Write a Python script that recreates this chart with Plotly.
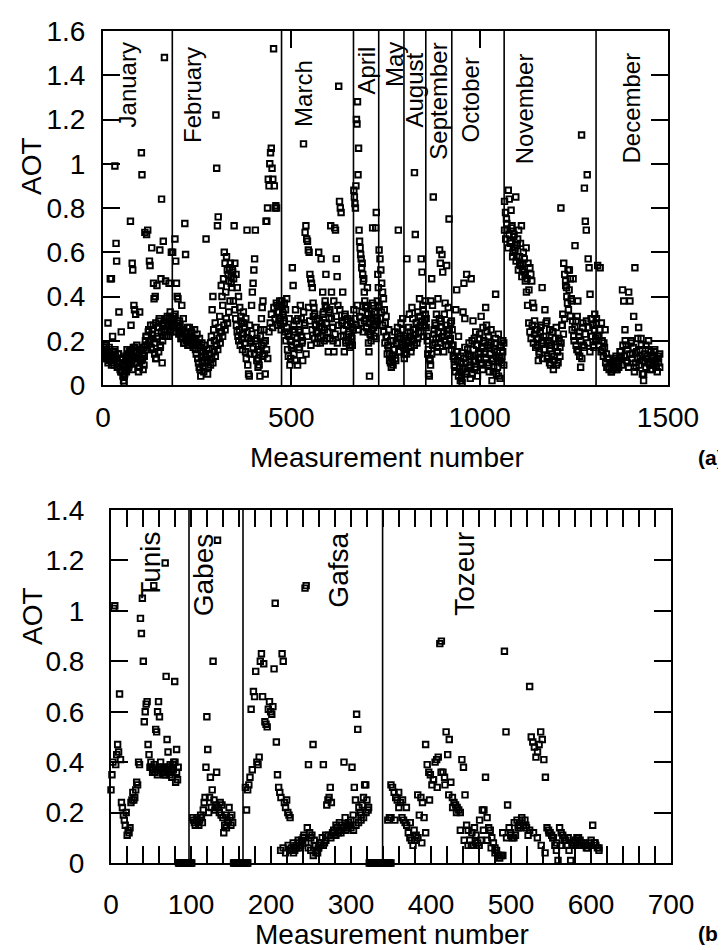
import numpy as np
import plotly.graph_objects as go

# ---------------- data: panel (a), AOT by month ----------------
month_names = ["January", "February", "March", "April", "May", "August",
               "September", "October", "November", "December"]
month_starts = [1, 185, 475, 666, 733, 800, 858, 927, 1066, 1310]
month_ends = [183, 473, 664, 731, 798, 856, 925, 1064, 1308, 1478]
month_dividers = [184, 474, 665, 732, 799, 857, 926, 1065, 1309]

jan = [0.15,0.17,0.13,0.16,0.14,0.18,0.12,0.15,0.28,0.13,0.16,0.11,0.48,0.14,0.48,0.10,0.22,0.12,0.15,0.09,
       0.99,0.13,0.64,0.56,0.11,0.08,0.14,0.33,0.10,0.07,0.12,0.24,0.06,0.09,0.04,0.02,0.01,0.05,0.08,0.13,
       0.06,0.16,0.10,0.12,0.08,0.15,0.11,0.74,0.27,0.14,0.55,0.52,0.17,0.36,0.34,0.12,0.32,0.15,0.18,0.10,
       0.12,0.06,0.14,0.33,0.11,0.16,1.05,0.95,0.12,0.07,0.17,0.13,0.69,0.20,0.22,0.68,0.18,0.70,0.24,0.20,
       0.56,0.54,0.27,0.16,0.62,0.25,0.21,0.46,0.39,0.14,0.40,0.28,0.12,0.45,0.22,0.26,0.15,0.30,0.61,0.18,
       0.48,0.84,0.10,0.27,0.65,0.24,1.48,0.25,0.47,0.29,0.22,0.31,0.27,0.22,0.46,0.25,0.33,0.28,0.60,0.29]
feb = [0.60,0.31,0.27,0.66,0.56,0.46,0.40,0.39,0.26,0.29,0.24,0.21,0.36,0.22,0.30,0.19,0.73,0.59,0.21,0.23,
       0.18,0.20,0.26,0.22,0.19,0.24,0.21,0.17,0.20,0.18,0.16,0.14,0.19,0.12,0.10,0.08,0.07,0.04,0.13,0.10,
       0.08,0.06,0.11,0.14,0.66,0.10,0.05,0.08,0.16,0.14,0.19,0.22,0.34,0.40,0.25,0.20,0.28,1.22,0.98,0.72,
       0.76,0.26,0.31,0.24,0.45,0.40,0.36,0.48,0.60,0.55,0.42,0.58,0.52,0.50,0.47,0.53,0.55,0.49,0.44,0.51,
       0.38,0.72,0.34,0.30,0.27,0.24,0.22,0.20,0.25,0.18,0.29,0.21,0.16,0.23,0.28,0.19,0.15,0.12,0.70,0.09,
       0.05,0.04,0.14,0.20,0.36,0.42,0.46,0.52,0.57,0.70,0.26,0.21,0.16,0.12,0.09,0.04,0.25,0.30,0.35,0.38,
       0.19,0.14,0.05,0.74,0.74,0.80,0.93,0.90,1.00,1.05,1.07,0.98,0.93,1.52,0.90,0.80,0.81,0.80,0.36,0.33,
       0.30,0.38,0.28,0.25]
mar = [0.38,0.33,0.28,0.37,0.24,0.20,0.39,0.16,0.13,0.22,0.09,0.12,0.18,0.53,0.45,0.27,0.24,0.34,0.29,0.21,
       0.30,0.25,0.17,0.36,0.22,0.19,0.11,1.09,0.28,0.69,0.72,0.66,0.65,0.61,0.60,0.50,0.48,0.46,0.44,0.37,
       0.35,0.32,0.27,0.24,0.30,0.21,0.60,0.26,0.19,0.57,0.28,0.42,0.33,0.25,0.38,0.50,0.35,0.21,0.15,0.30,
       0.34,0.72,0.42,0.26,0.20,0.15,0.71,0.70,0.57,0.49,0.36,1.35,0.83,0.80,0.78,0.28,0.42,0.22,0.15,0.32,
       0.19,0.27,0.30,0.20,0.24,0.17,0.28,0.22,0.18,0.25]
apr = [0.88,0.85,0.82,0.80,0.90,1.20,1.18,1.28,0.95,1.07,0.70,0.65,0.62,0.59,0.57,0.53,0.55,0.50,0.47,0.48,
       0.42,0.38,0.36,0.30,0.26,0.35,0.44,0.24,0.19,0.15,0.04,0.28,0.23,0.20,0.32,0.25,0.71,0.29,0.36,0.22,
       0.33,0.27,0.71,0.78,0.30,0.38,0.50,0.44]
may = [0.61,0.57,0.52,0.46,0.42,0.39,0.34,0.28,0.31,0.22,0.18,0.25,0.14,0.10,0.08,0.12,0.20,0.16,0.24,0.11,
       0.19,0.26,0.70,0.15,0.22,0.28,0.18,0.30,0.21]
aug = [0.14,0.18,0.22,0.57,0.20,0.26,0.32,0.24,0.17,0.35,0.30,0.21,0.96,0.68,0.28,0.19,0.33,0.24,0.39,0.27,
       0.57,0.51,0.36,0.22,0.30,0.38]
sep = [0.30,0.22,0.14,0.05,0.04,0.11,0.38,0.48,0.36,0.85,0.25,0.19,0.27,0.32,0.15,0.39,0.21,0.61,0.55,0.29,
       0.59,0.51,0.24,0.32,0.37,0.18,0.54,0.25,0.35,0.75,0.20,0.28,0.16]
octo = [0.25,0.18,0.12,0.08,0.34,0.43,0.15,0.22,0.06,0.02,0.10,0.01,0.33,0.46,0.30,0.05,0.50,0.16,0.08,0.13,
        0.03,0.48,0.20,0.29,0.11,0.07,0.24,0.18,0.04,0.12,0.21,0.15,0.31,0.09,0.26,0.19,0.14,0.35,0.27,0.10,
        0.22,0.06,0.17,0.25,0.02,0.12,0.08,0.19,0.41,0.05,0.15,0.23,0.11,0.03,0.18,0.13,0.20,0.09]
nov = [0.83,0.78,0.75,0.70,0.88,0.84,0.65,0.79,0.72,0.60,0.68,0.62,0.85,0.58,0.66,0.70,0.55,0.64,0.72,0.52,
       0.60,0.57,0.50,0.62,0.48,0.55,0.43,0.53,0.50,0.47,0.37,0.35,0.29,0.25,0.21,0.18,0.11,0.14,0.24,0.27,
       0.44,0.20,0.16,0.34,0.22,0.29,0.12,0.19,0.25,0.09,0.18,0.24,0.07,0.13,0.21,0.26,0.15,0.10,0.20,0.17,
       0.80,0.27,0.32,0.55,0.50,0.47,0.44,0.37,0.34,0.52,0.31,0.39,0.25,0.48,0.20,0.63,0.29,0.16,0.38,0.22,
       0.13,0.08,1.13,0.26,0.18,0.89,0.74,0.70,0.95,0.57,0.53,0.41,0.30,0.22,0.27,0.17,0.32,0.20]
dec = [0.30,0.54,0.22,0.53,0.28,0.16,0.19,0.25,0.14,0.12,0.08,0.10,0.06,0.07,0.09,0.12,0.07,0.11,0.08,0.15,
       0.13,0.43,0.38,0.25,0.18,0.10,0.42,0.38,0.20,0.14,0.31,0.53,0.08,0.12,0.26,0.16,0.21,0.05,0.02,0.10,
       0.18,0.13,0.20,0.09,0.15,0.07,0.12,0.16,0.10,0.06,0.13,0.08]
month_values = [jan, feb, mar, apr, may, aug, sep, octo, nov, dec]

# additional readings in the dense low-AOT band of each month
jan_b = [0.16,0.12,0.18,0.14,0.10,0.17,0.13,0.09,0.15,0.11,0.16,0.12,0.08,0.14,0.10,0.06,0.12,0.09,0.04,0.07,
         0.11,0.14,0.09,0.16,0.12,0.07,0.13,0.17,0.10,0.15,0.12,0.08,0.16,0.11,0.14,0.09,0.18,0.22,0.16,0.25,
         0.20,0.17,0.23,0.27,0.19,0.12,0.21,0.26,0.29,0.17,0.24,0.20,0.28,0.22,0.30,0.25,0.27,0.31,0.24,0.28]
feb_b = [0.30,0.26,0.32,0.24,0.28,0.23,0.27,0.21,0.25,0.19,0.23,0.20,0.26,0.18,0.22,0.24,0.19,0.21,0.25,0.20,
         0.23,0.18,0.21,0.17,0.19,0.15,0.18,0.13,0.16,0.11,0.14,0.09,0.12,0.10,0.15,0.13,0.18,0.16,0.21,0.19,
         0.24,0.22,0.27,0.25,0.30,0.28,0.33,0.38,0.46,0.52,0.48,0.55,0.50,0.44,0.40,0.35,0.31,0.28,0.33,0.26,
         0.30,0.24,0.21,0.27,0.19,0.23,0.17,0.14,0.20,0.11,0.08,0.15,0.22,0.18,0.13,0.25,0.20,0.16,0.12,0.24,
         0.28,0.32,0.26,0.35,0.30,0.37,0.27,0.33,0.29,0.36]
mar_b = [0.36,0.32,0.29,0.34,0.26,0.23,0.30,0.20,0.17,0.25,0.14,0.11,0.19,0.09,0.16,0.24,0.30,0.20,0.33,0.27,
         0.14,0.22,0.35,0.29,0.18,0.25,0.31,0.21,0.27,0.19,0.24,0.29,0.22,0.26,0.32,0.20,0.36,0.28,0.24,0.33,
         0.21,0.30,0.26,0.38,0.23,0.31,0.19,0.27,0.34,0.22,0.29,0.25,0.31,0.20,0.27,0.23,0.18,0.29,0.21,0.26]
apr_b = [0.34,0.30,0.27,0.36,0.25,0.31,0.28,0.33,0.24,0.29,0.35,0.26,0.32,0.28,0.23,0.30,0.37,0.26,0.33,0.21,
         0.29,0.35]
may_b = [0.36,0.30,0.33,0.27,0.24,0.19,0.22,0.14,0.17,0.11,0.20,0.13,0.09,0.16,0.12,0.19,0.23,0.15,0.21,0.18,
         0.25,0.17]
aug_b = [0.12,0.16,0.14,0.19,0.17,0.22,0.15,0.20,0.25,0.18,0.23,0.28,0.21,0.26,0.31,0.24,0.29,0.34,0.27,0.32]
sep_b = [0.26,0.20,0.16,0.12,0.09,0.14,0.18,0.23,0.28,0.21,0.17,0.24,0.30,0.19,0.26,0.22,0.15,0.20,0.27,0.23,
         0.18,0.25,0.21,0.29]
oct_b = [0.18,0.13,0.09,0.06,0.15,0.11,0.04,0.08,0.13,0.03,0.07,0.12,0.17,0.10,0.06,0.14,0.19,0.09,0.13,0.05,
         0.16,0.21,0.11,0.08,0.18,0.14,0.23,0.10,0.17,0.07,0.20,0.15,0.12,0.24,0.18,0.09,0.14,0.19,0.11,0.06,
         0.16,0.21,0.13,0.08,0.04,0.12,0.17,0.10,0.15,0.19]
nov_b = [0.70,0.66,0.73,0.62,0.68,0.64,0.71,0.58,0.67,0.61,0.56,0.63,0.52,0.58,0.54,0.49,0.55,0.51,0.47,0.42,
         0.36,0.28,0.24,0.21,0.27,0.19,0.23,0.17,0.25,0.21,0.15,0.26,0.19,0.12,0.22,0.16,0.28,0.13,0.20,0.10,
         0.18,0.14,0.24,0.11,0.17,0.09,0.15,0.21,0.13,0.19,0.27,0.23,0.30,0.45,0.40,0.52,0.43,0.48,0.38,0.29,
         0.22,0.26,0.18,0.31,0.15,0.24,0.20,0.12,0.28,0.17,0.23,0.29,0.19,0.26,0.15,0.22,0.30,0.18,0.25,0.21]
dec_b = [0.28,0.22,0.18,0.25,0.15,0.20,0.13,0.17,0.10,0.08,0.12,0.07,0.10,0.06,0.09,0.11,0.08,0.13,0.07,0.10,
         0.12,0.15,0.09,0.18,0.13,0.20,0.11,0.16,0.08,0.14,0.19,0.12,0.17,0.06,0.10,0.15,0.21,0.09,0.13,0.18,
         0.11,0.05,0.14,0.08,0.12,0.16,0.10,0.07,0.13,0.09,0.15,0.11,0.08,0.12,0.10,0.14]
month_band_values = [jan_b, feb_b, mar_b, apr_b, may_b, aug_b, sep_b, oct_b, nov_b, dec_b]

# ---------------- data: panel (b), AOT by site ----------------
site_names = ["Tunis", "Gabes", "Gafsa", "Tozeur"]
site_starts = [0, 102, 168, 346]
site_ends = [101, 171, 350, 610]
site_dividers = [97.5, 165, 339.5]

tunis = [0.29,0.35,0.40,1.01,1.02,0.39,0.43,0.47,0.44,0.67,0.41,0.24,0.22,0.19,0.17,0.15,0.20,0.11,0.13,0.12,
         0.14,0.24,0.25,0.28,0.25,0.26,0.29,0.32,0.31,0.40,0.39,0.97,0.91,1.05,0.80,0.56,0.60,0.63,0.64,0.47,
         0.43,0.38,0.40,0.38,0.37,1.10,0.36,0.53,0.52,0.60,0.64,0.58,0.38,0.37,0.36,0.38,0.35,1.19,0.74,0.49,
         0.44,0.38,0.35,0.37,0.36,0.39,0.40,0.72,0.32,0.45,0.33,
         0.0,0.0,0.0,0.0,0.0,0.0,0.0,0.0,0.0,0.0,0.0,0.0,0.0,0.0,0.0]
gabes = [0.18,0.17,0.16,0.15,0.17,0.18,0.16,0.15,0.17,0.19,0.18,0.16,0.21,0.24,0.26,0.38,0.58,0.45,0.20,0.26,
         0.34,0.22,0.29,0.80,0.25,0.21,0.23,0.36,1.28,0.22,0.20,0.24,0.19,0.23,0.18,0.12,0.15,0.19,0.14,0.17,
         0.16,0.22,0.18,0.15,0.19,0.16,
         0.0,0.0,0.0,0.0,0.0,0.0,0.0,0.0,0.0,0.0,0.0,0.0,0.0,0.0,0.0,0.0,0.0]
gafsa = [0.30,0.21,0.29,0.31,0.34,0.61,0.37,0.68,0.66,0.76,0.40,0.39,0.42,0.80,0.83,0.66,0.79,0.56,0.55,0.54,
         0.61,0.64,0.60,0.59,0.62,0.77,1.03,0.48,0.35,0.30,0.28,0.26,0.83,0.80,0.24,0.22,0.25,0.20,0.19,0.18,
         0.06,0.05,0.04,0.05,0.07,0.06,0.08,0.06,0.07,0.09,0.08,0.11,1.09,1.10,0.14,0.39,0.12,0.10,0.11,0.47,
         0.09,0.07,0.05,0.04,0.06,0.08,0.07,0.10,0.39,0.08,0.11,0.23,0.25,0.26,0.30,0.24,0.12,0.13,0.11,0.15,
         0.14,0.12,0.16,0.13,0.15,0.14,0.40,0.18,0.15,0.14,0.16,0.15,0.17,0.38,0.19,0.30,0.25,0.59,0.53,0.22,
         0.20,0.19,0.23,0.26,0.31,0.31,0.25,0.21,
         0.0,0.0,0.0,0.0,0.0,0.0,0.0,0.0,0.0,0.0,0.0,0.0,0.0,0.0,0.0,0.0,0.0,0.0,0.0,0.0]
tozeur = [0.17,0.18,0.31,0.30,0.28,0.26,0.25,0.22,0.24,0.18,0.17,0.16,0.15,0.12,0.10,0.09,0.07,0.09,0.11,0.27,
          0.19,0.26,0.24,0.18,0.47,0.39,0.36,0.35,0.31,0.33,0.40,0.41,0.42,0.87,0.88,0.36,0.34,0.52,0.43,0.49,
          0.32,0.26,0.24,0.23,0.22,0.21,0.20,0.41,0.38,0.27,0.15,0.13,0.09,0.07,0.07,0.14,0.11,0.08,0.07,0.09,
          0.21,0.21,0.34,0.18,0.14,0.13,0.10,0.08,0.06,0.05,0.03,0.02,0.03,0.03,0.84,0.52,0.23,0.14,0.11,0.10,
          0.10,0.11,0.17,0.15,0.14,0.18,0.15,0.17,0.14,0.11,0.70,0.50,0.48,0.46,0.42,0.44,0.47,0.52,0.49,0.41,
          0.34,0.14,0.13,0.12,0.11,0.10,0.07,0.05,0.01,0.14,0.12,0.11,0.10,0.09,0.07,0.05,0.01,0.07,0.08,0.09,
          0.10,0.10,0.09,0.08,0.07,0.07,0.06,0.07,0.08,0.09,0.15,0.08,0.07,0.06,0.05]
site_values = [tunis, gabes, gafsa, tozeur]

# additional readings in the dense parts of each site's record
band_site_names = ["Tunis", "Gafsa", "Tozeur"]
band_site_starts = [50, 212, 350]
band_site_ends = [84, 322, 610]
tunis_b = [0.38,0.36,0.39,0.37,0.35,0.38,0.40,0.36,0.37,0.35,0.38,0.36,0.39,0.34,0.37,0.40,0.36,0.38]
gafsa_b = [0.05,0.06,0.04,0.07,0.05,0.08,0.06,0.09,0.07,0.10,0.08,0.06,0.05,0.03,0.04,0.06,0.08,0.07,0.09,0.11,
           0.10,0.12,0.11,0.13,0.12,0.14,0.13,0.15,0.14,0.13,0.15,0.16,0.17,0.18,0.20,0.22]
tozeur_b = [0.18,0.17,0.28,0.25,0.22,0.16,0.13,0.10,0.08,0.12,0.25,0.33,0.30,0.36,0.31,0.27,0.22,0.20,0.13,0.09,
            0.07,0.12,0.08,0.17,0.13,0.09,0.06,0.04,0.03,0.12,0.10,0.12,0.16,0.14,0.17,0.15,0.13,0.12,0.10,0.07,
            0.04,0.12,0.10,0.08,0.07,0.09,0.10,0.08,0.07,0.07,0.08,0.06,0.07,0.08,0.06]
band_site_values = [tunis_b, gafsa_b, tozeur_b]

# ---------------- figure ----------------
W, H = 726, 950
FONT = "Arial, Liberation Sans, Helvetica, sans-serif"


def pxx(p):
    return p / W


def pxy(p):
    return 1 - p / H


marker = dict(symbol="square-open", size=5.5, color="black", line=dict(width=1.9, color="black"))

fig = go.Figure()
for name, s, e, vals, bvals in zip(month_names, month_starts, month_ends, month_values, month_band_values):
    fig.add_trace(go.Scatter(x=np.linspace(s, e, len(vals)), y=vals, mode="markers",
                             marker=marker, name=name, xaxis="x", yaxis="y", showlegend=False))
    fig.add_trace(go.Scatter(x=np.linspace(s, e, len(bvals)), y=bvals, mode="markers",
                             marker=marker, name=name, xaxis="x", yaxis="y", showlegend=False))
for name, s, e, vals in zip(site_names, site_starts, site_ends, site_values):
    fig.add_trace(go.Scatter(x=np.linspace(s, e, len(vals)), y=vals, mode="markers",
                             marker=marker, name=name, xaxis="x2", yaxis="y2", showlegend=False,
                             cliponaxis=False))
for name, s, e, vals in zip(band_site_names, band_site_starts, band_site_ends, band_site_values):
    fig.add_trace(go.Scatter(x=np.linspace(s, e, len(vals)), y=vals, mode="markers",
                             marker=marker, name=name, xaxis="x2", yaxis="y2", showlegend=False))

axis_common = dict(showline=True, linewidth=2, linecolor="black", mirror="ticks",
                   ticks="inside", ticklen=17, tickwidth=2, tickcolor="black",
                   showgrid=False, zeroline=False, automargin=False,
                   tickfont=dict(family=FONT, size=28, color="black"))

fig.update_layout(
    width=W, height=H, margin=dict(l=0, r=0, t=0, b=0),
    paper_bgcolor="white", plot_bgcolor="white", showlegend=False,
    font=dict(family=FONT, color="black"),
    xaxis=dict(domain=[pxx(95), pxx(660)], anchor="y", range=[0, 1500], tickvals=[0, 500, 1000, 1500],
               ticklabelstandoff=6, **axis_common),
    yaxis=dict(domain=[pxy(377), pxy(23)], anchor="x", range=[0, 1.6], dtick=0.2,
               ticklabelstandoff=10, **axis_common),
    xaxis2=dict(domain=[pxx(103), pxx(663)], anchor="y2", range=[0, 700], dtick=100,
                minor=dict(dtick=20, ticks="inside", ticklen=17, tickwidth=2, tickcolor="black"),
                ticklabelstandoff=15, **axis_common),
    yaxis2=dict(domain=[pxy(855), pxy(502)], anchor="x2", range=[0, 1.4], dtick=0.2,
                ticklabelstandoff=19, **axis_common),
)

shapes = []
for d in month_dividers:
    shapes.append(dict(type="line", xref="x", yref="y", x0=d, x1=d, y0=0, y1=1.6,
                       line=dict(color="black", width=1.6)))
for d in site_dividers:
    shapes.append(dict(type="line", xref="x2", yref="y2", x0=d, x1=d, y0=0, y1=1.4,
                       line=dict(color="black", width=1.6)))
fig.update_layout(shapes=shapes)

ann = []
month_label_x = [66, 239, 532, 700, 774, 826, 890, 976, 1120, 1402]
month_label_top = [1.559, 1.537, 1.478, 1.537, 1.559, 1.51, 1.555, 1.49, 1.51, 1.51]
for name, lx, ly in zip(month_names, month_label_x, month_label_top):
    ann.append(dict(xref="x", yref="y", x=lx, y=ly, text=name, textangle=-90, showarrow=False,
                    xanchor="center", yanchor="top", font=dict(family=FONT, size=24, color="black")))
site_label_x = [49, 116, 284, 442]
site_label_top = [1.32, 1.317, 1.317, 1.32]
for name, lx, ly in zip(site_names, site_label_x, site_label_top):
    ann.append(dict(xref="x2", yref="y2", x=lx, y=ly, text=name, textangle=-90, showarrow=False,
                    xanchor="center", yanchor="top", font=dict(family=FONT, size=28, color="black")))

title_font = dict(family=FONT, size=28, color="black")
for txt, x, y, ang in [("AOT", 24, 158, -90), ("Measurement number", 379, 450, 0),
                       ("AOT", 24, 608, -90), ("Measurement number", 384, 926, 0)]:
    ann.append(dict(xref="paper", yref="paper", x=pxx(x), y=pxy(y), text=txt, textangle=ang,
                    showarrow=False, xanchor="center", yanchor="middle", font=title_font))
for txt, y in [("<b>(a)</b>", 450), ("<b>(b)</b>", 925)]:
    ann.append(dict(xref="paper", yref="paper", x=pxx(703), y=pxy(y), text=txt, showarrow=False,
                    xanchor="center", yanchor="middle", font=dict(family=FONT, size=21, color="black")))
fig.update_layout(annotations=ann)

fig.write_html("out.html")
